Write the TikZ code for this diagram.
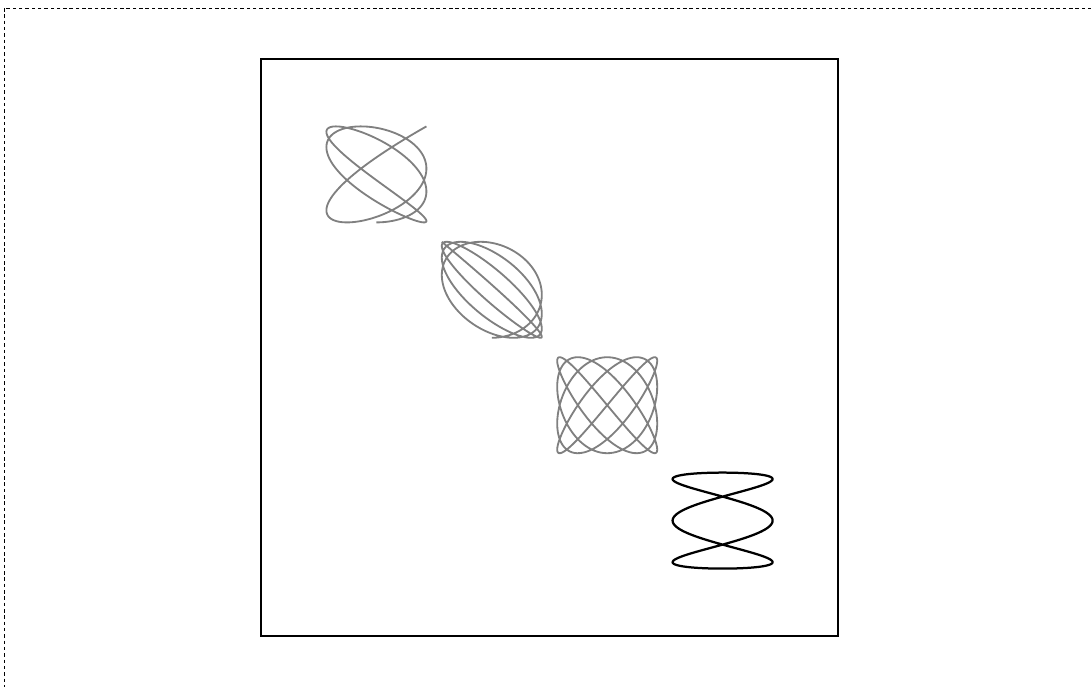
\documentclass[tikz,border=0pt]{standalone}
\usepackage{tikz}
\begin{document}
\begin{tikzpicture}[
    frame/.style={draw, dash pattern=on 2.5pt off 2pt, line width=0.6pt},
    panel/.style={draw, line width=1.4pt},
    figgray/.style={draw=gray, line width=1.3pt},
    figblack/.style={draw=black, line width=1.6pt}
]
\useasboundingbox (0,0) rectangle (27.275,-17.175);
\clip (0,0) rectangle (27.275,-17.175);

% outer dashed frame, runs off the page
\draw[frame] (0.1,-0.2) rectangle (28,-18);

% panel
\draw[panel] (6.525,-1.475) rectangle ++(14.425,-14.425);

% Lissajous figures along the diagonal
\foreach \k/\a/\b/\sty in {1/3.25/2.5/figgray, 2/3.75/3.5/figgray, 3/4/5/figgray, 4/3/1/figblack}
  \draw[\sty, shift={(6.525+2.885*\k,-1.475-2.885*\k)}]
    plot[domain=0:360, samples=400, smooth] ({1.25*sin(\a*\x)},{-1.2*cos(\b*\x)});

\end{tikzpicture}
\end{document}
